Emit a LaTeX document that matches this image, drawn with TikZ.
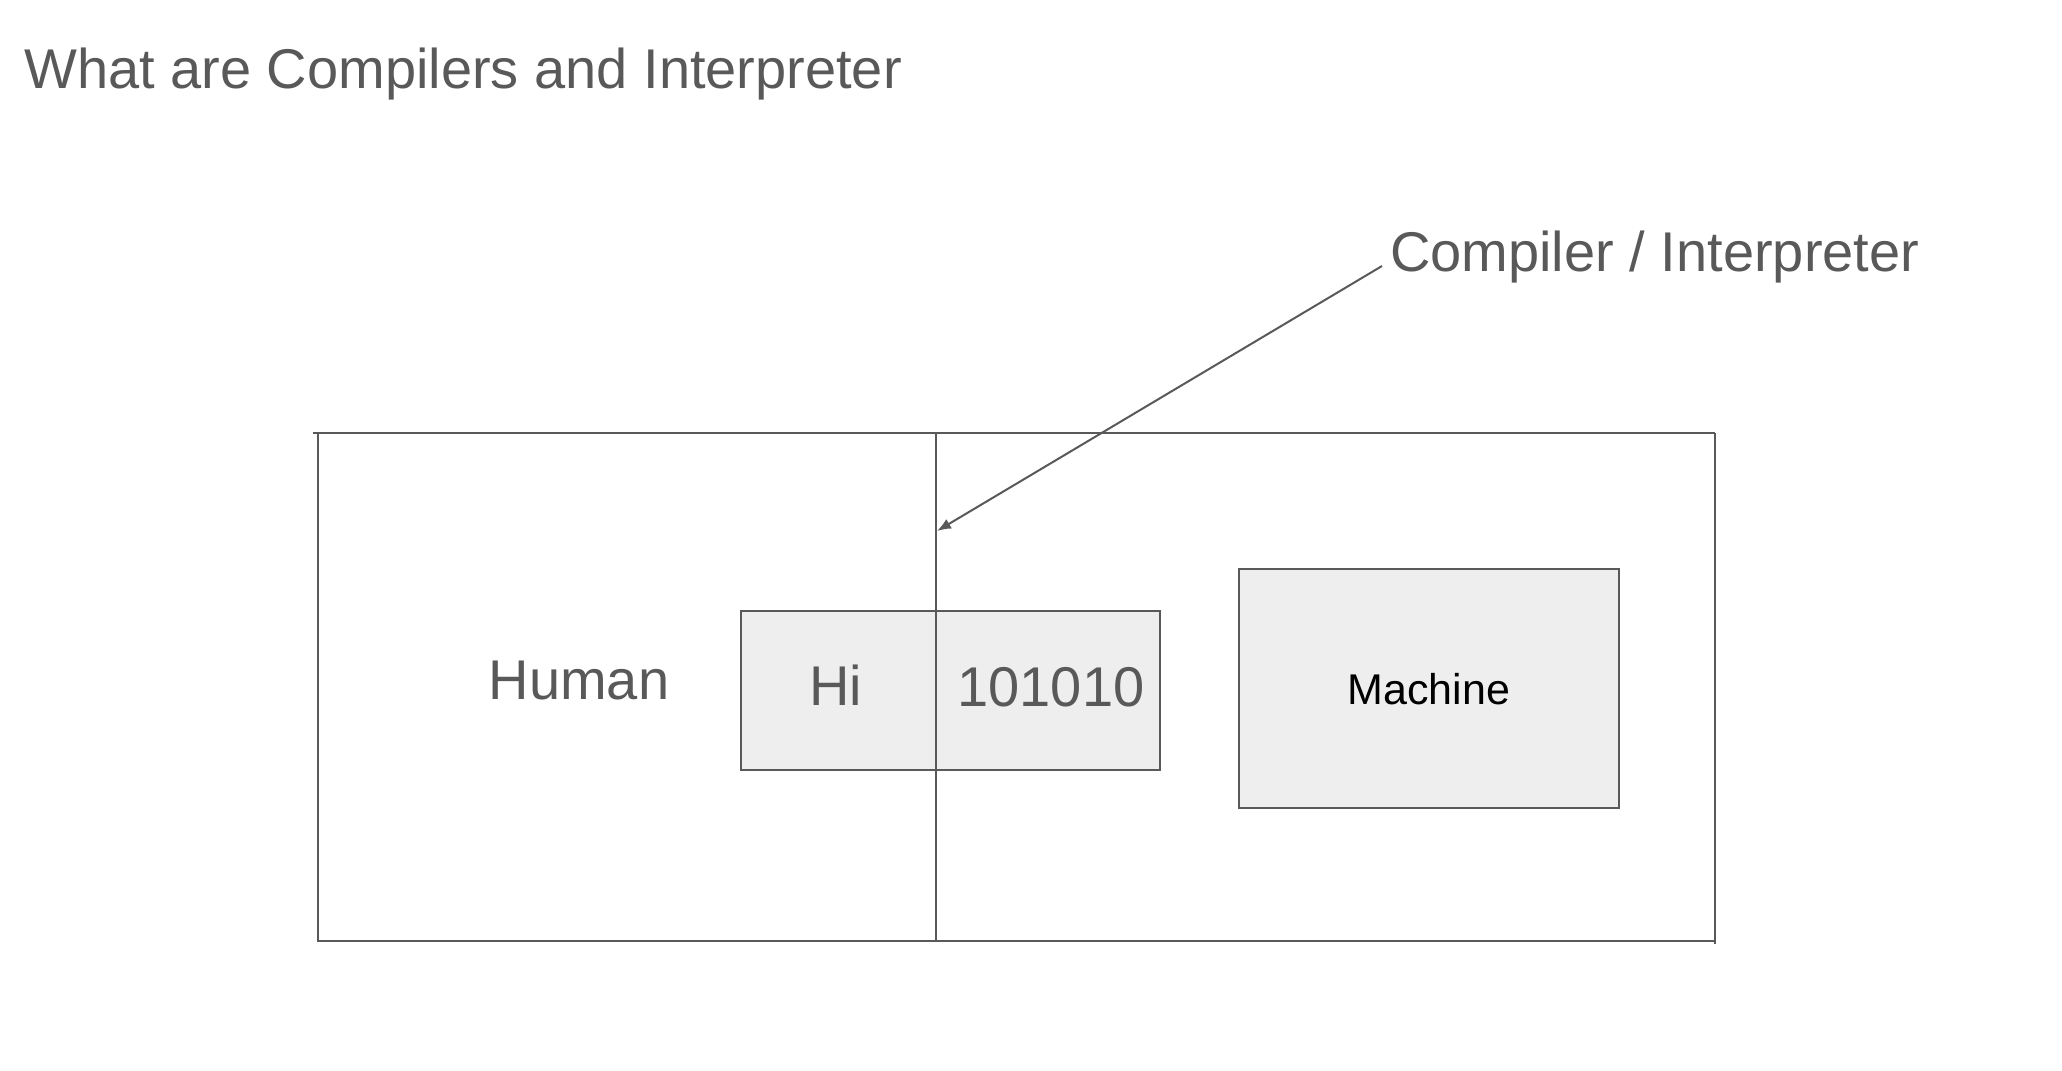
\documentclass[tikz,border=0pt]{standalone}
\usepackage{fontspec}
\setmainfont{Liberation Sans}
\usetikzlibrary{arrows.meta}
\definecolor{ink}{HTML}{595959}
\definecolor{boxfill}{HTML}{EEEEEE}
\tikzset{
  frameline/.style={draw=ink, line width=2pt},
  greybox/.style={draw=ink, line width=2pt, fill=boxfill, rectangle, inner sep=0pt},
  bigtext/.style={text=ink, inner sep=0pt, font=\fontsize{56}{60}\selectfont},
  smalltext/.style={text=black, inner sep=0pt, font=\fontsize{43}{48}\selectfont},
}
\begin{document}
\begin{tikzpicture}[x=1pt,y=-1pt]
\useasboundingbox (0,0) rectangle (2062,1071);
% title
\node[bigtext, anchor=base west] (title) at (24,88) {What are Compilers and Interpreter};
% outer frame
\coordinate (tl) at (313,432.5);
\coordinate (tr) at (1715,432.5);
\coordinate (lt) at (318,432.5);
\coordinate (lb) at (318,941);
\coordinate (rb) at (1715,944);
\coordinate (br) at (1715,941);
\draw[frameline] (tl) -- (tr);
\draw[frameline] (lt) -- (lb) -- (br);
\draw[frameline] (tr) -- (rb);
% boxes
\node[greybox, minimum width=419pt, minimum height=159pt] (code) at (950.5,690) {};
\node[greybox, minimum width=380pt, minimum height=239pt] (machinebox) at (1428.5,688) {};
% divider
\coordinate (dtop) at (936,432.5);
\coordinate (dbot) at (936,941);
\draw[frameline] (dtop) -- (dbot);
% texts
\node[bigtext, anchor=base] (human) at (579,699) {Human};
\node[bigtext, anchor=base] (hi) at (836,705) {Hi};
\node[bigtext, anchor=base] (bin) at (1051,706) {101010};
\node[smalltext, anchor=base] (machine) at (1429,704) {Machine};
% label and arrow
\node[bigtext, anchor=base west] (label) at (1390,271) {Compiler / Interpreter};
\coordinate (astart) at (1382,266);
\coordinate (aend) at (937,531);
\draw[draw=ink, line width=2pt, -{Latex[length=14pt,width=11pt]}] (astart) -- (aend);
\end{tikzpicture}
\end{document}
